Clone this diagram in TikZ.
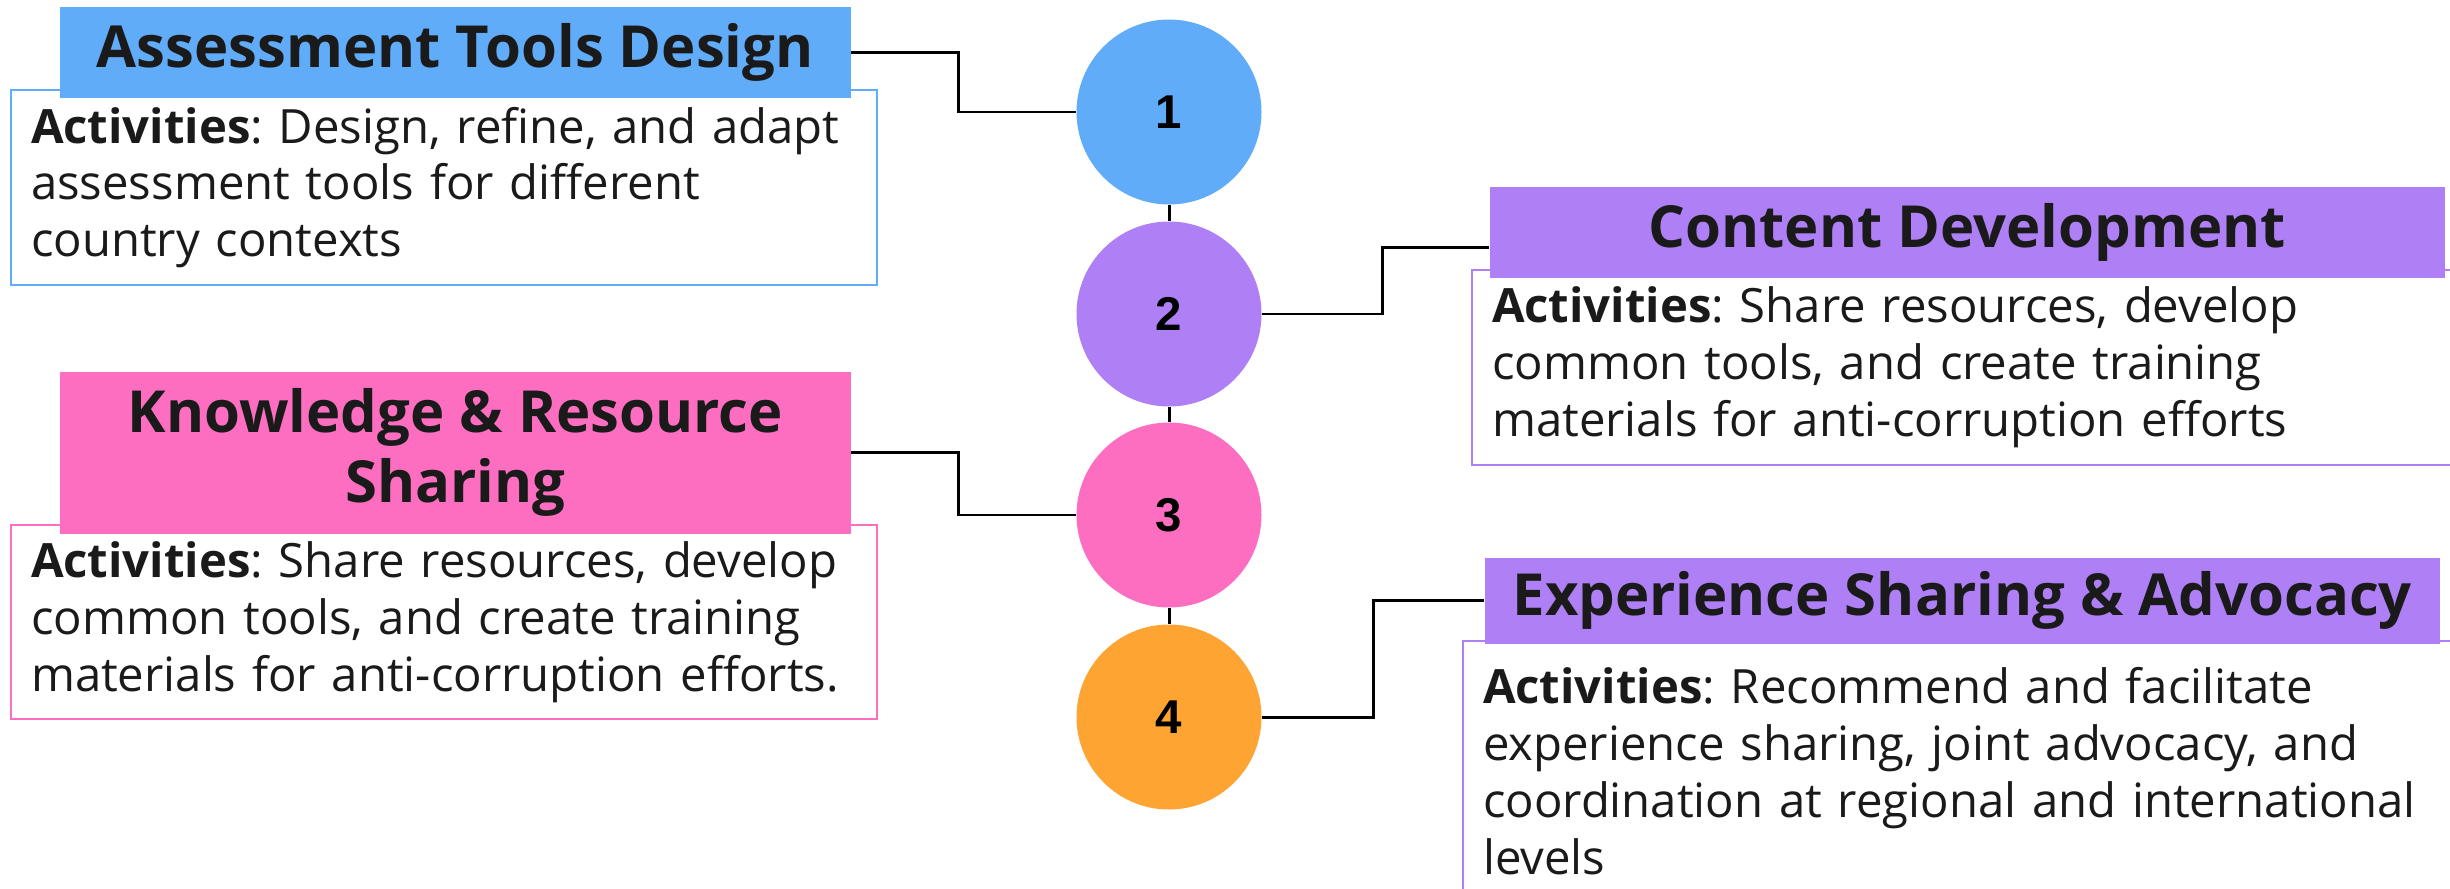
\documentclass[tikz,border=0pt]{standalone}
\usepackage{fontspec}
\setmainfont{Open Sans}
\newfontfamily\numfont{Liberation Sans}
\usetikzlibrary{positioning, calc}
\frenchspacing

\definecolor{toolblue}{HTML}{60ACF8}
\definecolor{contentpurple}{HTML}{AF7FF6}
\definecolor{sharepink}{HTML}{FD6EC0}
\definecolor{stepsorange}{HTML}{FEA433}
\definecolor{inkgray}{HTML}{1A1A1A}

\begin{document}
\begin{tikzpicture}[
    header/.style={fill=#1, text=inkgray, font=\fontsize{16.5}{19.9}\selectfont\bfseries, align=center, inner sep=0pt, anchor=north west},
    activity/.style={draw=#1, line width=0.6pt, fill=white, text=inkgray, font=\fontsize{13.45}{16.2}\selectfont, align=left, inner xsep=0.2cm, inner ysep=0pt, anchor=north west},
    stepnum/.style={circle, fill=#1, minimum size=1.85cm, inner sep=0pt, font=\numfont\bfseries\fontsize{13.5}{16}\selectfont},
    link/.style={draw=black, line width=0.85pt}
]
    \clip (0,0) rectangle (24.5,-8.89);

    % Assessment tools design
    \node[activity=toolblue, text width=8.26cm, minimum height=1.95cm] (act1) at (0.10,-0.89) {
        \textbf{Activities}: Design, refine, and adapt\\
        assessment tools for different\\
        country contexts};
    \node[header=toolblue, minimum width=7.91cm, minimum height=0.91cm] (head1) at (0.59,-0.06) {Assessment Tools Design};

    % Knowledge and resource sharing
    \node[activity=sharepink, text width=8.26cm, minimum height=1.94cm] (act3) at (0.10,-5.24) {
        \textbf{Activities}: Share resources, develop\\
        common tools, and create training\\
        materials for anti-corruption efforts.};
    \node[header=sharepink, minimum width=7.91cm, minimum height=1.62cm] (head3) at (0.59,-3.71) {Knowledge \& Resource\\ Sharing};

    % Content development
    \node[activity=contentpurple, text width=9.5cm, minimum height=1.95cm] (act2) at (14.71,-2.69) {
        \textbf{Activities}: Share resources, develop\\
        common tools, and create training\\
        materials for anti-corruption efforts};
    \node[header=contentpurple, minimum width=9.55cm, minimum height=0.91cm] (head2) at (14.89,-1.86) {Content Development};

    % Experience sharing and advocacy
    \node[activity=contentpurple, text width=9.5cm, minimum height=2.6cm] (act4) at (14.62,-6.40) {
        \textbf{Activities}: Recommend and facilitate\\
        experience sharing, joint advocacy, and\\
        coordination at regional and international\\
        levels};
    \node[header=contentpurple, minimum width=9.55cm, minimum height=0.86cm] (head4) at (14.84,-5.57) {Experience Sharing \& Advocacy};

    % Numbered steps
    \node[stepnum=toolblue] (step1) at (11.69,-1.12) {1};
    \node[stepnum=contentpurple] (step2) at (11.69,-3.14) {2};
    \node[stepnum=sharepink] (step3) at (11.69,-5.15) {3};
    \node[stepnum=stepsorange] (step4) at (11.69,-7.17) {4};

    \draw[link] (step1) -- (step2);
    \draw[link] (step2) -- (step3);
    \draw[link] (step3) -- (step4);

    \draw[link] (head1.east) -- ++(1.07,0) |- (step1.west);
    \draw[link] (head3.east) -- ++(1.07,0) |- (step3.west);
    \draw[link] (step2.east) -- ++(1.2,0) |- ([yshift=-1.5mm]head2.west);
    \draw[link] (step4.east) -- ++(1.11,0) |- (head4.west);
\end{tikzpicture}
\end{document}
